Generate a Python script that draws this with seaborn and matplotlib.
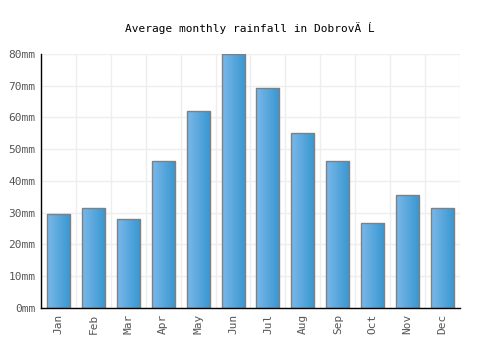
import numpy as np
import pandas as pd
import matplotlib
matplotlib.use("Agg")
import matplotlib.pyplot as plt
import seaborn as sns
from matplotlib.colors import LinearSegmentedColormap

months = ["Jan", "Feb", "Mar", "Apr", "May", "Jun", "Jul", "Aug", "Sep", "Oct", "Nov", "Dec"]
rainfall = [29.6, 31.5, 28.0, 46.3, 62.0, 80.0, 69.3, 55.1, 46.3, 26.8, 35.6, 31.5]
yticks = [0, 10, 20, 30, 40, 50, 60, 70, 80]
ytick_labels = [f"{v}mm" for v in yticks]
title = "Average monthly rainfall in DobrovÄ Ĺ"

sns.set_theme(style="white")
plt.rcParams['font.family'] = ['DejaVu Sans Mono', 'DejaVu Sans']

df = pd.DataFrame({"month": months, "rain": rainfall})

fig = plt.figure(figsize=(5, 3.5), dpi=100)
ax = fig.add_axes([0.082, 0.12, 0.838, 0.726])

sns.barplot(data=df, x="month", y="rain", ax=ax, width=0.66,
            color="#4ea3dc", edgecolor="#808080", linewidth=1.0, zorder=3)

cmap = LinearSegmentedColormap.from_list("g", ["#7ab8ea", "#3796d0"])
grad = np.linspace(0, 1, 64).reshape(1, -1)
for p in ax.patches:
    x0, y0 = p.get_x(), p.get_y()
    w, h = p.get_width(), p.get_height()
    im = ax.imshow(grad, cmap=cmap, aspect="auto", extent=[x0, x0 + w, y0, y0 + h],
                   zorder=3.5, interpolation="bilinear")
    im.set_clip_path(p)
    p.set_facecolor("none")
    p.set_zorder(4)

ax.set_xlim(-0.5, len(months) - 0.5)
ax.set_ylim(0, 80)
ax.set_yticks(yticks)
ax.set_yticklabels(ytick_labels, fontsize=8, color="#555555")
ax.set_xticks(range(len(months)))
ax.set_xticklabels(months, rotation=90, fontsize=8, color="#555555")
ax.set_xticks(np.arange(-0.5, len(months) + 0.5, 1), minor=True)
ax.grid(True, axis="y", color="#eeeeee", linewidth=1, zorder=0)
ax.grid(True, axis="x", which="minor", color="#eeeeee", linewidth=1, zorder=0)
ax.grid(False, axis="x", which="major")
ax.tick_params(axis="both", which="both", length=0, pad=4)
ax.set_xlabel("")
ax.set_ylabel("")
for s in ["top", "right"]:
    ax.spines[s].set_visible(False)
for s in ["left", "bottom"]:
    ax.spines[s].set_color("black")
    ax.spines[s].set_linewidth(1)
    ax.spines[s].set_zorder(5)

fig.text(0.5, 0.92, title, ha="center", va="center", fontsize=8, color="black")

fig.savefig("out.png", dpi=100, facecolor="white")
